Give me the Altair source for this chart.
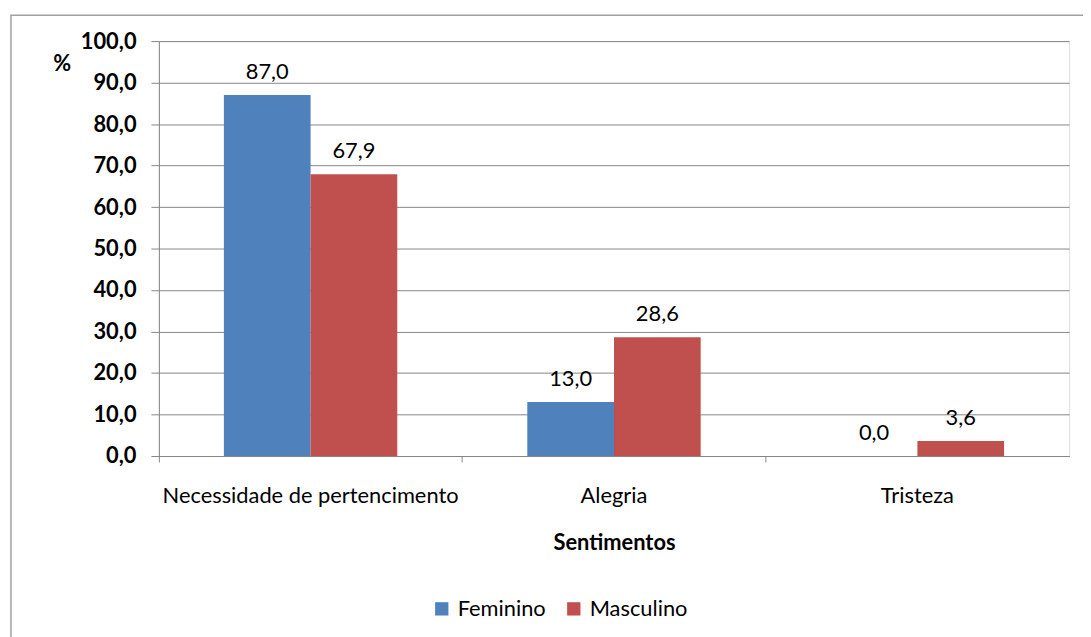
import altair as alt
import pandas as pd

categories = ["Necessidade de pertencimento", "Alegria", "Tristeza"]
feminino = [87.0, 13.0, 0.0]
masculino = [67.9, 28.6, 3.6]
series = ["Feminino", "Masculino"]
colors = ["#4F81BD", "#C0504D"]

rows = []
for c, f, m in zip(categories, feminino, masculino):
    rows.append({"cat": c, "sexo": "Feminino", "v": f})
    rows.append({"cat": c, "sexo": "Masculino", "v": m})
df = pd.DataFrame(rows)
df["lbl"] = df["v"].map(lambda v: f"{v:.1f}".replace(".", ","))

FONT = "Lato"
FS = 22

x_main = alt.X("cat:N", sort=categories,
               scale=alt.Scale(paddingInner=0, paddingOuter=0),
               axis=alt.Axis(title="Sentimentos", labelAngle=0, ticks=False,
                             domainColor="#868686", labelFontSize=FS, labelLimit=0,
                             labelColor="#000000", labelFont=FONT, labelPadding=30,
                             titleFont=FONT, titleFontSize=FS, titleFontWeight="bold",
                             titlePadding=26, titleColor="#000000"))
x_ticks = alt.X("cat:N", sort=categories,
                scale=alt.Scale(paddingInner=0, paddingOuter=0),
                axis=alt.Axis(title=None, labels=False, domain=False, ticks=True,
                              orient="bottom", bandPosition=0,
                              tickColor="#868686", tickSize=6))
xoff = alt.XOffset("sexo:N", sort=series,
                   scale=alt.Scale(paddingInner=0, paddingOuter=0.75))
y = alt.Y("v:Q", scale=alt.Scale(domain=[0, 100]),
          axis=alt.Axis(title="%", titleAngle=0, titleAlign="left", titleX=-107,
                        titleY=23, titleBaseline="middle", titleFont=FONT,
                        titleFontSize=FS, titleFontWeight="bold", titleColor="#000000",
                        values=list(range(0, 101, 10)),
                        labelExpr="replace(format(datum.value, '.1f'), '.', ',')",
                        labelFont=FONT, labelFontSize=FS, labelFontWeight="bold",
                        labelColor="#000000", labelPadding=15,
                        gridColor="#868686", domainColor="#868686",
                        tickColor="#868686", tickSize=8))

color = alt.Color("sexo:N", sort=series,
                  scale=alt.Scale(domain=series, range=colors),
                  legend=alt.Legend(title=None, orient="none", direction="horizontal",
                                    legendX=274, legendY=561, symbolType="square",
                                    symbolSize=180, symbolStrokeWidth=0,
                                    labelFont=FONT, labelFontSize=FS, labelOffset=5,
                                    labelColor="#000000", columnPadding=17,
                                    symbolOpacity=1))

bars = alt.Chart(df).mark_bar(opacity=1).encode(x=x_main, xOffset=xoff, y=y, color=color)

labels = alt.Chart(df).mark_text(baseline="middle", dy=-23, font=FONT, fontSize=FS,
                                 color="#000000").encode(
    x=x_ticks, xOffset=xoff, y=alt.Y("v:Q"), text="lbl:N")

border = alt.Chart(pd.DataFrame({"a": [0]})).mark_rect(
    fill=None, stroke="#A0A0A0", strokeWidth=1.5, clip=False).encode(
    x=alt.value(-149), x2=alt.value(960), y=alt.value(-26), y2=alt.value(640))

chart = alt.layer(bars, labels, border).resolve_axis(x="independent").properties(
    width=917, height=418,
    autosize=alt.AutoSizeParams(type="none"),
    padding={"left": 152, "top": 31, "right": 14, "bottom": 180},
).configure_view(stroke=None).configure(background="white")

chart.save("out.html", embed_options={"renderer": "svg", "actions": False})
